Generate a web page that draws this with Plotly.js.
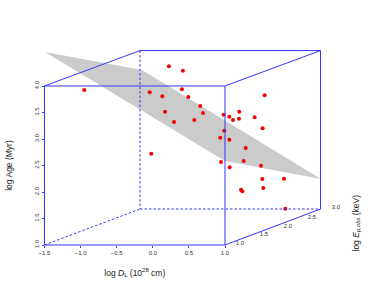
<!DOCTYPE html>
<html>
<head>
<meta charset="utf-8">
<script src="https://cdn.plot.ly/plotly-3.0.1.min.js"></script>
<style>html,body{margin:0;padding:0;background:#fff}#c{width:374px;height:307px}</style>
</head>
<body>
<div id="c"></div>
<script>
// Projected positions, in units of the front-face axes (log D_L, log Age)
const pointX = [-0.949,0.224,0.418,-0.043,0.132,0.404,0.169,0.294,-0.021,0.492,0.658,0.695,0.575,0.982,1.060,1.111,1.194,1.198,1.411,1.550,1.522,0.990,0.935,1.060,1.287,1.259,0.945,1.065,1.499,1.517,1.817,1.530,1.222,1.240,1.835];
const pointY = [3.925,4.372,4.289,3.881,3.806,3.938,3.515,3.321,2.723,3.792,3.623,3.491,3.358,3.458,3.421,3.358,3.383,3.515,3.409,3.825,3.202,3.157,3.025,2.987,2.830,2.585,2.566,2.466,2.496,2.245,2.251,2.075,2.043,2.013,1.685];
const planeX = [-1.493,-0.150,2.330,1.000,-1.493];
const planeY = [4.642,4.302,2.245,2.585,4.642];
const boxSolidX = [-1.5,1,1,-1.5,-1.5,null,-1.5,-0.177,2.323,2.323,1,null,1,2.323];
const boxSolidY = [1,1,4,4,1,null,4,4.668,4.668,1.679,1,null,4,4.668];
const boxDashX = [-0.177,-0.177,null,-0.177,2.323,null,-1.5,-0.177];
const boxDashY = [4.668,1.679,null,1.679,1.679,null,1,1.679];
const xTicks = [-1.5,-1.0,-0.5,0.0,0.5,1.0];
const yTicks = [1.0,1.5,2.0,2.5,3.0,3.5,4.0];
const depthLabels = ['1.0','1.5','2.0','2.5','3.0'];
const depthLabelX = [1.208,1.54,1.873,2.205,2.537];
const depthLabelY = [1.019,1.189,1.345,1.528,1.698];

const blue = '#3535ff';
const common = {xaxis:'x2',yaxis:'y2',cliponaxis:false,hoverinfo:'skip',showlegend:false};
const traces = [
  {x:xTicks,y:xTicks.map(()=>1),mode:'markers',marker:{opacity:0,size:1},hoverinfo:'skip',showlegend:false},
  {...common,x:planeX,y:planeY,mode:'lines',fill:'toself',fillcolor:'#cbcbcb',line:{width:0,color:'#cbcbcb'}},
  {...common,x:pointX,y:pointY,mode:'markers',marker:{color:'#f00000',size:4,line:{width:0}}},
  {...common,x:boxSolidX,y:boxSolidY,mode:'lines',line:{color:blue,width:1}},
  {...common,x:boxDashX,y:boxDashY,mode:'lines',line:{color:blue,width:1,dash:'2.5px,2px'}},
  {...common,x:depthLabelX,y:depthLabelY,mode:'text',text:depthLabels,textposition:'middle center',textfont:{family:'Liberation Sans',size:6,color:'#333'}}
];
const layout = {
  width:374,height:307,
  margin:{l:0,r:0,t:0,b:0,pad:0},
  paper_bgcolor:'#fff',plot_bgcolor:'rgba(0,0,0,0)',
  font:{family:'Liberation Sans',color:'#222'},
  showlegend:false,
  xaxis2:{domain:[0,1],range:[-2.116,3.064],anchor:'y2',visible:false,fixedrange:true},
  yaxis2:{domain:[0,1],range:[-0.170,5.622],anchor:'x2',visible:false,fixedrange:true},
  xaxis:{domain:[44.5/374,225/374],anchor:'y',range:[-1.5,1],tickvals:xTicks,ticktext:xTicks.map(v=>v.toFixed(1).replace('-','\u2212')),showgrid:false,zeroline:false,showline:false,ticks:'outside',ticklen:2,tickwidth:1,tickcolor:blue,tickangle:0,tickfont:{size:6,color:'#333'},
    title:{text:'log <i>D</i><sub>L</sub> (10<sup>28</sup> cm)',font:{size:8.5,color:'#222'},standoff:14}},
  yaxis:{domain:[1-245/307,1-86/307],anchor:'x',range:[1,4],tickvals:yTicks,ticktext:yTicks.map(v=>v.toFixed(1)),showgrid:false,zeroline:false,showline:false,ticks:'outside',ticklen:2,tickwidth:1,tickcolor:blue,tickangle:-90,tickfont:{size:6,color:'#333'},
    title:{text:'log Age (Myr)',font:{size:8.5,color:'#222'},standoff:20}},
  annotations:[{xref:'paper',yref:'paper',x:355.5/374,y:1-223/307,xanchor:'center',yanchor:'middle',showarrow:false,textangle:-90,
    text:'log <i>E</i><sub><i>p,obs</i></sub> (keV)',font:{family:'Liberation Sans',size:8.5,color:'#222'}}]
};
Plotly.newPlot('c',traces,layout,{displayModeBar:false,staticPlot:true});
</script>
</body>
</html>
